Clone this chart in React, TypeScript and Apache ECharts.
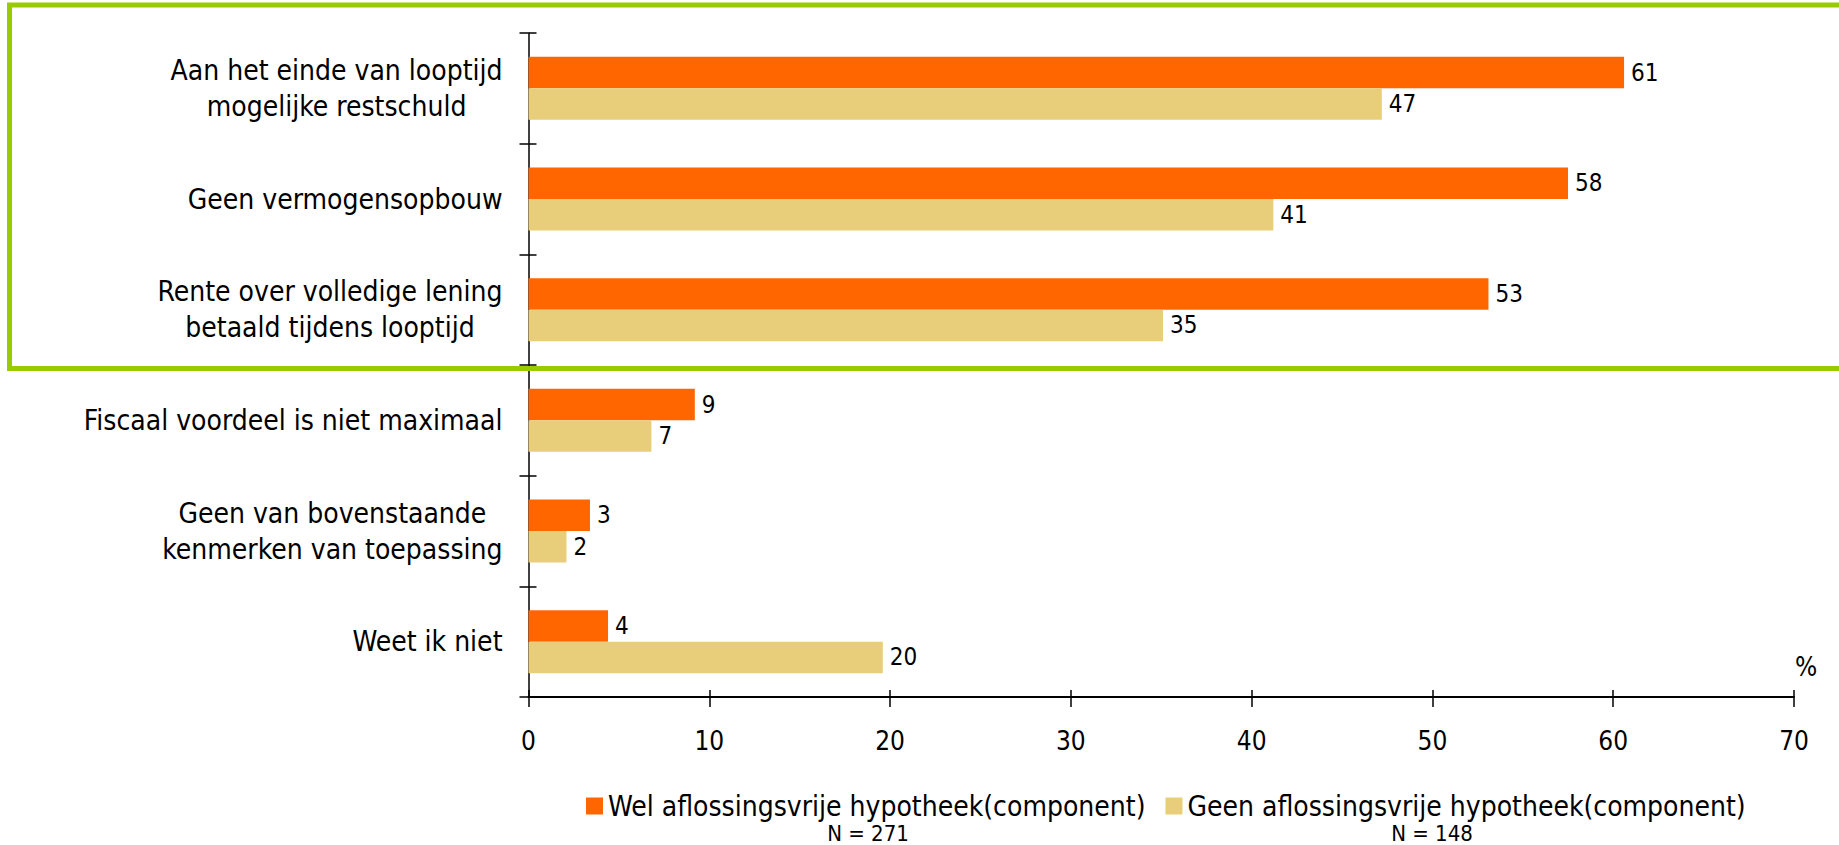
import React, { useEffect, useRef } from "react";
import * as echarts from "echarts";

const categories: string[] = [
  "Aan het einde van looptijd\nmogelijke restschuld",
  "Geen vermogensopbouw",
  "Rente over volledige lening\nbetaald tijdens looptijd",
  "Fiscaal voordeel is niet maximaal",
  "Geen van bovenstaande\nkenmerken van toepassing",
  "Weet ik niet",
];
const welValues: number[] = [60.6, 57.5, 53.1, 9.2, 3.4, 4.4];
const geenValues: number[] = [47.2, 41.2, 35.1, 6.8, 2.1, 19.6];
const seriesNames: string[] = [
  "Wel aflossingsvrije hypotheek(component)",
  "Geen aflossingsvrije hypotheek(component)",
];
const sampleSizes: string[] = ["N = 271", "N = 148"];
const xTicks = { min: 0, max: 70, interval: 10 };

const FONT = "'DejaVu Sans Condensed', 'Liberation Sans Narrow', 'DejaVu Sans', sans-serif";
const FS_CAT = 28;
const FS_TICK = 26;
const FS_LEG = 28;
const FS_VAL = 24;
const FS_N = 22;

function measure(text: string, size: number): number {
  const c = document.createElement("canvas").getContext("2d");
  if (!c) return text.length * size * 0.55;
  c.font = `${size}px ${FONT}`;
  return c.measureText(text).width;
}

export default function App() {
  const ref = useRef<HTMLDivElement>(null);
  useEffect(() => {
    if (!ref.current) return;
    const chart = echarts.init(ref.current, undefined, { renderer: "svg" });
    const yData = categories.map((c) => {
      const lines = c.split("\n");
      if (lines.length < 2) return c;
      const w = Math.max(...lines.map((l) => measure(l, FS_CAT)));
      return { value: c, textStyle: { align: "center", padding: [0, w, 0, 0] } };
    });
    const valueLabel = {
      show: true,
      position: "right",
      distance: 7,
      fontSize: FS_VAL,
      color: "#000",
      fontFamily: FONT,
      formatter: (p: any) => String(Math.round(p.value)),
    };
    chart.setOption({
      animation: false,
      textStyle: { fontFamily: FONT },
      grid: { left: 528.5, right: 45, top: 33, bottom: 148, containLabel: false },
      legend: {
        left: 581,
        top: 787,
        icon: "rect",
        itemWidth: 17,
        itemHeight: 17,
        itemGap: 20,
        textStyle: { fontSize: FS_LEG, color: "#000", fontFamily: FONT },
        data: seriesNames,
      },
      xAxis: [
        {
          type: "value",
          min: xTicks.min,
          max: xTicks.max,
          interval: xTicks.interval,
          position: "bottom",
          axisLine: { show: true, lineStyle: { color: "#000", width: 2 } },
          axisTick: { show: true, inside: false, length: 10, lineStyle: { color: "#000", width: 1.5 } },
          axisLabel: { fontSize: FS_TICK, color: "#000", margin: 31, fontFamily: FONT },
          splitLine: { show: false },
        },
        {
          type: "value",
          min: xTicks.min,
          max: xTicks.max,
          interval: xTicks.interval,
          position: "bottom",
          axisLine: { show: false },
          axisTick: { show: true, inside: true, length: 7, lineStyle: { color: "#000", width: 1.5 } },
          axisLabel: { show: false },
          splitLine: { show: false },
        },
      ],
      yAxis: [
        {
          type: "category",
          inverse: true,
          position: "left",
          data: yData,
          axisLine: { show: true, lineStyle: { color: "#000", width: 1.5 } },
          axisTick: { show: true, inside: false, length: 9, lineStyle: { color: "#000", width: 1.5 } },
          axisLabel: { fontSize: FS_CAT, color: "#000", margin: 26, lineHeight: 36, fontFamily: FONT, interval: 0 },
        },
        {
          type: "category",
          inverse: true,
          position: "left",
          offset: 0,
          data: categories,
          axisLine: { show: false },
          axisTick: { show: true, inside: true, length: 8, lineStyle: { color: "#000", width: 1.5 } },
          axisLabel: { show: false },
        },
      ],
      series: [
        {
          name: seriesNames[0],
          type: "bar",
          xAxisIndex: 0,
          yAxisIndex: 0,
          data: welValues,
          barWidth: 31.5,
          barGap: "0%",
          itemStyle: { color: "#FF6600" },
          label: valueLabel,
        },
        {
          name: seriesNames[1],
          type: "bar",
          xAxisIndex: 0,
          yAxisIndex: 0,
          data: geenValues,
          barWidth: 31.5,
          barGap: "0%",
          itemStyle: { color: "#E8CE7A" },
          label: valueLabel,
        },
      ],
      graphic: [
        {
          type: "rect",
          shape: { x: 9.5, y: 5, width: 1900, height: 363.5 },
          style: { fill: "none", stroke: "#99CC00", lineWidth: 5 },
          silent: true,
          z: 100,
        },
        {
          type: "text",
          x: 1806,
          y: 667,
          style: { text: "%", fontSize: FS_TICK, fill: "#000", fontFamily: FONT, textAlign: "center", textVerticalAlign: "middle" },
        },
        {
          type: "text",
          x: 868,
          y: 833,
          style: { text: sampleSizes[0], fontSize: FS_N, fill: "#000", fontFamily: FONT, textAlign: "center", textVerticalAlign: "middle" },
        },
        {
          type: "text",
          x: 1432,
          y: 833,
          style: { text: sampleSizes[1], fontSize: FS_N, fill: "#000", fontFamily: FONT, textAlign: "center", textVerticalAlign: "middle" },
        },
      ],
    });
    return () => chart.dispose();
  }, []);
  return (
    <div
      ref={ref}
      style={{ position: "fixed", left: 0, top: 0, width: 1839, height: 845, background: "#fff" }}
    />
  );
}
